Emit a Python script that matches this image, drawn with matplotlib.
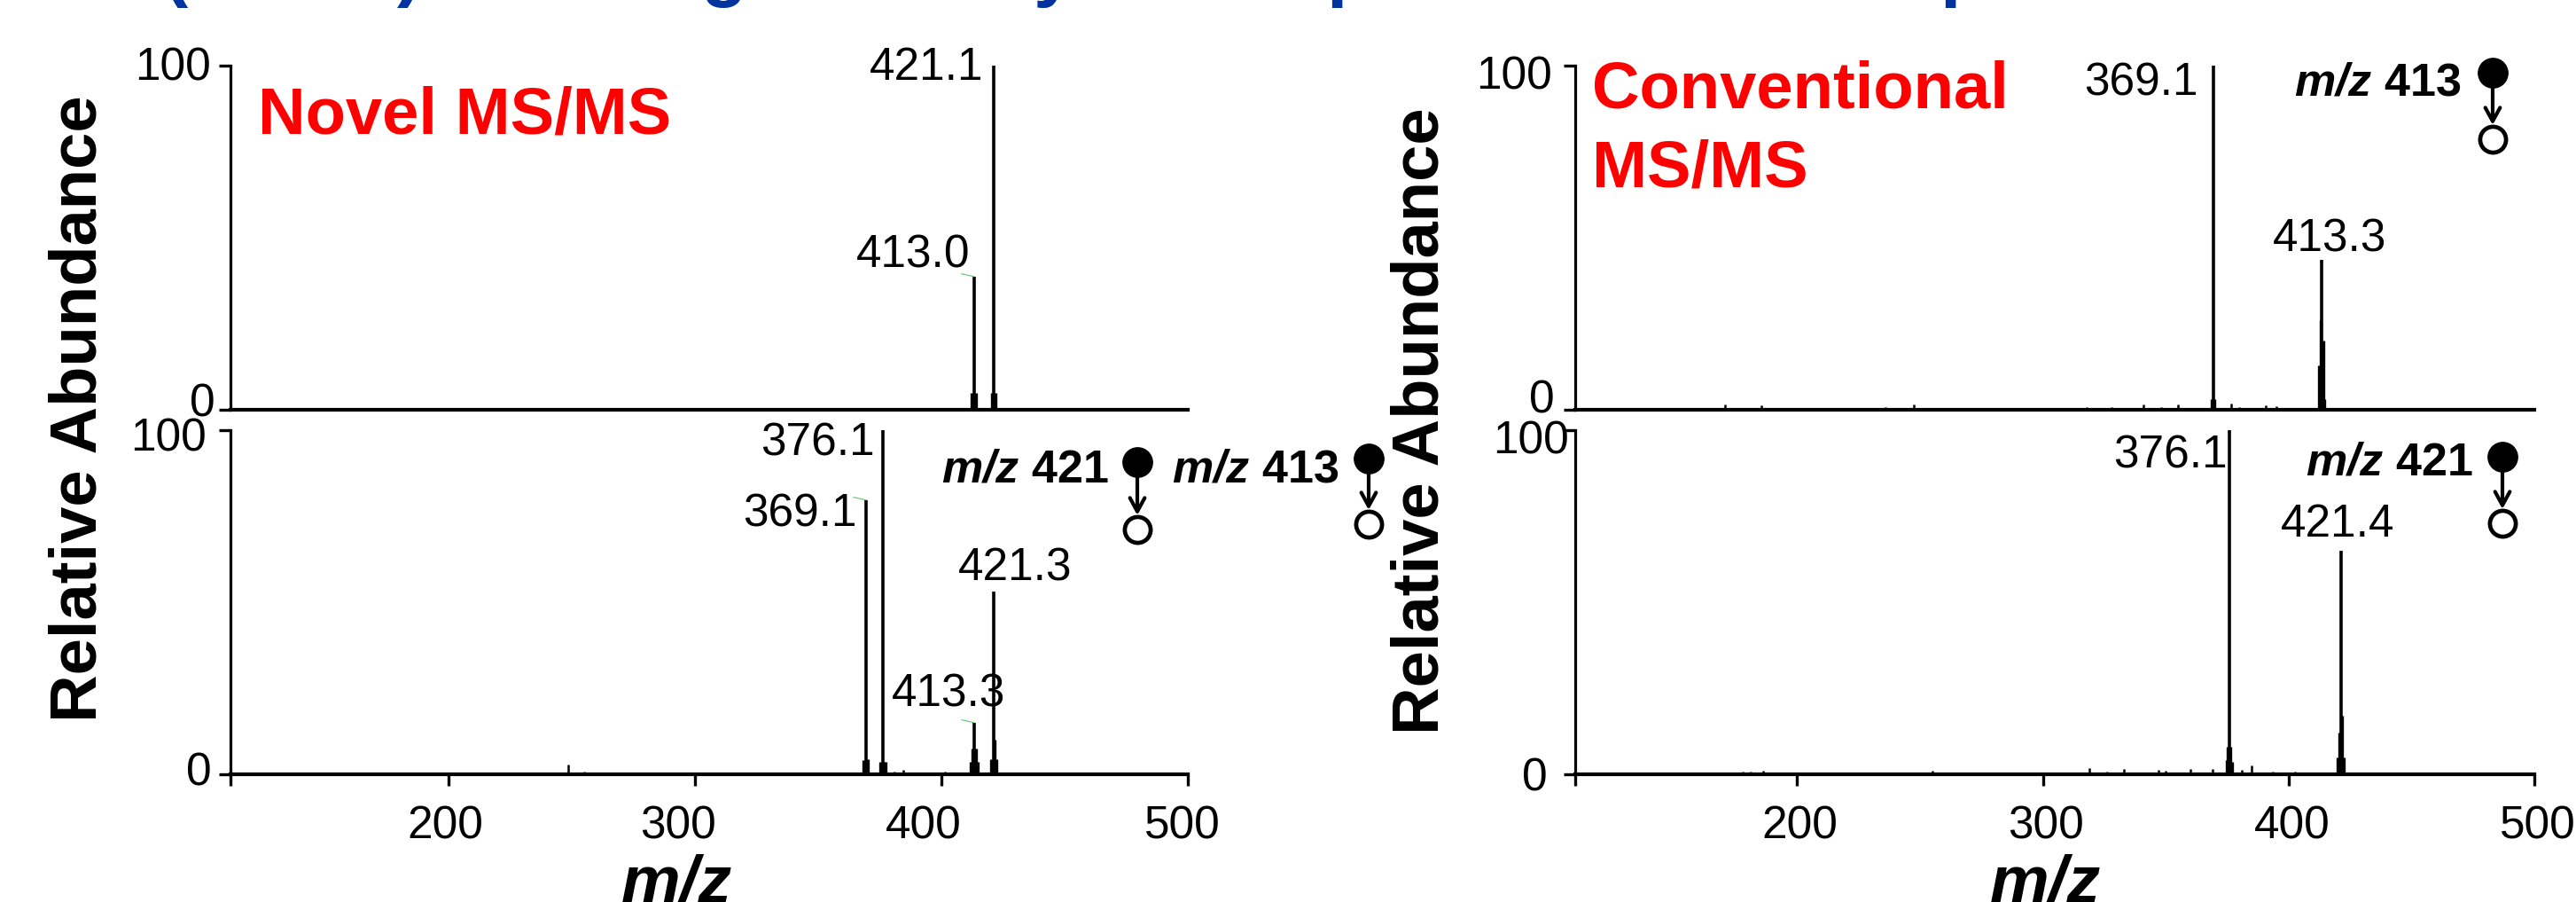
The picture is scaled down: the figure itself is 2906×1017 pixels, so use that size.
import matplotlib
matplotlib.use("Agg")
import matplotlib.pyplot as plt
from matplotlib.lines import Line2D
from matplotlib.transforms import ScaledTranslation

plt.rcParams['font.family'] = ['Liberation Sans', 'DejaVu Sans']
plt.rcParams['mathtext.fontset'] = 'custom'
plt.rcParams['mathtext.rm'] = 'Liberation Sans:bold'
plt.rcParams['mathtext.bf'] = 'Liberation Sans:bold'
plt.rcParams['mathtext.bfit'] = 'Liberation Sans:italic:bold'

W, H = 2906, 1017

# -------------------------------
# Data
# -------------------------------
# main peaks: m/z, relative abundance
novel_top_mz = [413.2, 421.2]
novel_top_int = [38.7, 100]
novel_top_labels = ["413.0", "421.1"]
novel_top_shoulder_mz = [412.4, 414.0, 420.4, 422.0]
novel_top_shoulder_int = [5, 5, 5, 5]
novel_top_noise_mz = []
novel_top_noise_int = []

novel_low_mz = [369.4, 376.3, 413.3, 421.2]
novel_low_int = [79.7, 100, 15, 53]
novel_low_labels = ["369.1", "376.1", "413.3", "421.3"]
novel_low_shoulder_mz = [368.4, 370.2, 375.2, 376.6, 377.4, 412.0, 412.6, 414.0, 414.6, 420.2, 421.6, 422.4]
novel_low_shoulder_int = [4, 4.5, 3.5, 3.6, 3.5, 3.5, 7.5, 7.5, 3.5, 4.5, 10, 4.5]
novel_low_noise_mz = [142, 172, 176, 182, 189.6, 205, 235, 243, 248.6, 255, 263, 270, 285, 296, 320, 335, 345, 352, 358,
                      362, 381, 384.5, 392, 401.4]
novel_low_noise_int = [0.4, 0.4, 0.4, 0.4, 0.6, 0.4, 0.4, 0.5, 2.8, 0.7, 0.4, 0.4, 0.5, 0.4, 0.4, 0.5, 0.4, 0.5, 0.5,
                       0.5, 0.9, 1.2, 0.6, 0.9]

conv_top_mz = [369.3, 413.4]
conv_top_int = [100, 43.5]
conv_top_labels = ["369.1", "413.3"]
conv_top_shoulder_mz = [368.6, 369.9, 412.2, 412.9, 414.0, 414.6]
conv_top_shoulder_int = [3, 3, 13, 26, 20, 3]
conv_top_noise_mz = [150, 170.8, 185.6, 195, 205, 215, 225, 236, 247.6, 255, 265, 275, 290, 305, 318, 328, 340.8, 348,
                     355, 376.6, 380, 390.6, 395, 432, 455]
conv_top_noise_int = [0.4, 1.5, 1.2, 0.5, 0.6, 0.5, 0.6, 0.7, 1.6, 0.6, 0.6, 0.5, 0.6, 0.6, 0.7, 0.7, 1.6, 0.8,
                      1.6, 1.8, 0.7, 1.3, 1.1, 0.3, 0.3]

conv_low_mz = [375.8, 421.3]
conv_low_int = [100, 65]
conv_low_labels = ["376.1", "421.4"]
conv_low_shoulder_mz = [374.7, 375.3, 376.4, 377.0, 419.8, 420.5, 421.9, 422.5]
conv_low_shoulder_int = [4, 8, 8, 3.5, 5, 12, 17, 5]
conv_low_noise_mz = [150, 165, 178, 181, 186, 195, 212, 226, 240, 255, 268, 285, 295, 305, 319, 326, 333, 347, 350,
                     360, 369, 381, 385, 393.5, 402.6]
conv_low_noise_int = [0.4, 0.5, 0.8, 0.9, 1.1, 0.5, 0.6, 0.6, 0.6, 1, 0.6, 0.6, 0.5, 0.5, 1.7, 0.8, 1.5, 1.3, 1,
                      1.5, 1.5, 1.2, 2.5, 0.8, 0.8]

x_ticks = [200, 300, 400, 500]
y_ticks = [0, 100]

# -------------------------------
# Layout (pixels from the top left)
# -------------------------------
left_box = (260, 1340, 111.5)
right_box = (1777, 2859, 109.7)
top_rows = (74, 462)
low_rows = (485, 873)

def fx(px):
    return px / W

def fy(py):
    return 1 - py / H

def shift(label, dx, dy):
    label.set_transform(label.get_transform() + ScaledTranslation(dx / 100, dy / 100, fig.dpi_scale_trans))

def make_axes(box, rows, bottom, y_off, x_off=None):
    ax = fig.add_axes([fx(box[0]), fy(rows[1]), (box[1] - box[0]) / W, (rows[1] - rows[0]) / H])
    ax.set_xlim(box[2], 500)
    ax.set_ylim(0, 100)
    ax.patch.set_alpha(0)
    ax.spines['top'].set_visible(False)
    ax.spines['right'].set_visible(False)
    ax.spines['left'].set_linewidth(2.3)
    ax.spines['bottom'].set_linewidth(3.0)
    ax.set_yticks(y_ticks)
    ax.set_yticklabels([str(t) for t in y_ticks], fontsize=37)
    ax.tick_params(axis='y', length=9.5, width=2.4, pad=4)
    for lab, (dx, dy) in zip(ax.get_yticklabels(), y_off):
        lab.set_verticalalignment('center')
        shift(lab, dx, dy)
    if bottom:
        ax.set_xticks([box[2]] + x_ticks)
        ax.set_xticklabels([""] + [str(t) for t in x_ticks], fontsize=37)
        ax.tick_params(axis='x', length=9, width=2.4, pad=16)
        for lab, dx in zip(ax.get_xticklabels()[1:], x_off):
            shift(lab, dx, 0)
    else:
        ax.set_xticks([])
    return ax

def draw_spectrum(ax, mz, inten, labels, offsets, sh_mz, sh_int, n_mz, n_int, lw=2.6):
    ax.vlines(mz, 0, inten, color='black', lw=lw, clip_on=False)
    ax.vlines(sh_mz, 0, sh_int, color='black', lw=2.4)
    if n_mz:
        ax.vlines(n_mz, 0, n_int, color='black', lw=1.8)
    for m, i, t, (dx, dy) in zip(mz, inten, labels, offsets):
        ax.annotate(t, xy=(m, i), xytext=(dx, dy), textcoords='offset pixels', fontsize=37,
                    ha='right', va='baseline', annotation_clip=False)

def green_mark(ax, mz, inten):
    ax.plot([mz - 5, mz], [inten + 0.8, inten], color='#5fc46a', lw=0.8, clip_on=False)

def fragment(x, y, dy_open, text, text_right, text_base):
    # filled circle -> arrow -> open circle, with the m/z text on the left
    ax_all.annotate("", xy=(fx(x), fy(y + dy_open - 16)), xytext=(fx(x), fy(y + 14)),
                    xycoords='figure fraction', textcoords='figure fraction',
                    arrowprops=dict(arrowstyle='->,head_length=1.1,head_width=0.6', lw=3.0, color='black',
                                    shrinkA=0, shrinkB=0))
    fig.add_artist(Line2D([fx(x)], [fy(y)], marker='o', ms=24, mfc='black', mec='black', transform=fig.transFigure))
    fig.add_artist(Line2D([fx(x)], [fy(y + dy_open)], marker='o', ms=21, mfc='white', mec='black', mew=3.4,
                          transform=fig.transFigure, zorder=3))
    fig.text(fx(text_right), fy(text_base), text, fontsize=37.5, fontweight='bold', ha='right', va='baseline')

fig = plt.figure(figsize=(W / 100, H / 100), dpi=100, facecolor='white')
ax_all = fig.add_axes([0, 0, 1, 1])
ax_all.axis('off')

# -------------------------------
# Panels
# -------------------------------
ax1 = make_axes(left_box, top_rows, False, [(1, 6), (-3, -3)])
draw_spectrum(ax1, novel_top_mz, novel_top_int, novel_top_labels, [(-4, 10), (-12, -16)],
              novel_top_shoulder_mz, novel_top_shoulder_int, novel_top_noise_mz, novel_top_noise_int)
green_mark(ax1, novel_top_mz[0], novel_top_int[0])

ax2 = make_axes(left_box, low_rows, True, [(-3, 1), (-8, -10)], [-4, -19, -20, -6])
draw_spectrum(ax2, novel_low_mz, novel_low_int, novel_low_labels, [(-10, -30), (-9, -29), (35, 18), (88, 13)],
              novel_low_shoulder_mz, novel_low_shoulder_int, novel_low_noise_mz, novel_low_noise_int)
green_mark(ax2, novel_low_mz[0], novel_low_int[0])
green_mark(ax2, novel_low_mz[2], novel_low_int[2])

ax3 = make_axes(right_box, top_rows, False, [(-5, 10), (-7, -13)])
draw_spectrum(ax3, conv_top_mz, conv_top_int, conv_top_labels, [(-17, -34), (73, 10)],
              conv_top_shoulder_mz, conv_top_shoulder_int, conv_top_noise_mz, conv_top_noise_int)

ax4 = make_axes(right_box, low_rows, True, [(-13, -5), (12, -13)], [3, 3, 4, 4])
draw_spectrum(ax4, conv_low_mz, conv_low_int, conv_low_labels, [(-2, -43), (61, 16)],
              conv_low_shoulder_mz, conv_low_shoulder_int, conv_low_noise_mz, conv_low_noise_int)

# -------------------------------
# Shared text
# -------------------------------
fig.text(fx(89), fy(461), "Relative Abundance", fontsize=53.5, fontweight='bold', rotation=90, ha='center', va='center')
fig.text(fx(1603), fy(475), "Relative Abundance", fontsize=53.5, fontweight='bold', rotation=90, ha='center', va='center')
fig.text(fx(763), fy(1016), "m/z", fontsize=54, fontweight='bold', fontstyle='italic', ha='center', va='baseline')
fig.text(fx(2307), fy(1016), "m/z", fontsize=54, fontweight='bold', fontstyle='italic', ha='center', va='baseline')

fig.text(fx(291), fy(150), "Novel MS/MS", fontsize=53.5, fontweight='bold', color='#ff0000', ha='left', va='baseline')
fig.text(fx(1796), fy(122), "Conventional", fontsize=53.5, fontweight='bold', color='#ff0000', ha='left', va='baseline')
fig.text(fx(1796), fy(211), "MS/MS", fontsize=53.5, fontweight='bold', color='#ff0000', ha='left', va='baseline')

fragment(1283, 521, 76, r"$\mathbfit{m/z}$ 421", 1251, 543)
fragment(1544, 517, 74, r"$\mathbfit{m/z}$ 413", 1510, 543)
fragment(2812, 82, 75, r"$\mathbfit{m/z}$ 413", 2776, 107)
fragment(2823, 515, 75, r"$\mathbfit{m/z}$ 421", 2790, 536)

# the title above is cut off by the image edge, only these descenders show
title_bits = ["(", ")", "g", "y", "p", "p"]
title_x = [212, 448, 816, 1165, 1496, 2188]
title_ha = ['right', 'left', 'center', 'left', 'left', 'left']
for t, x, a in zip(title_bits, title_x, title_ha):
    fig.text(fx(x), fy(-9), t, fontsize=61, fontweight='bold', color='#0033a0', ha=a, va='baseline')

fig.savefig("out.png", dpi=100, facecolor='white')
